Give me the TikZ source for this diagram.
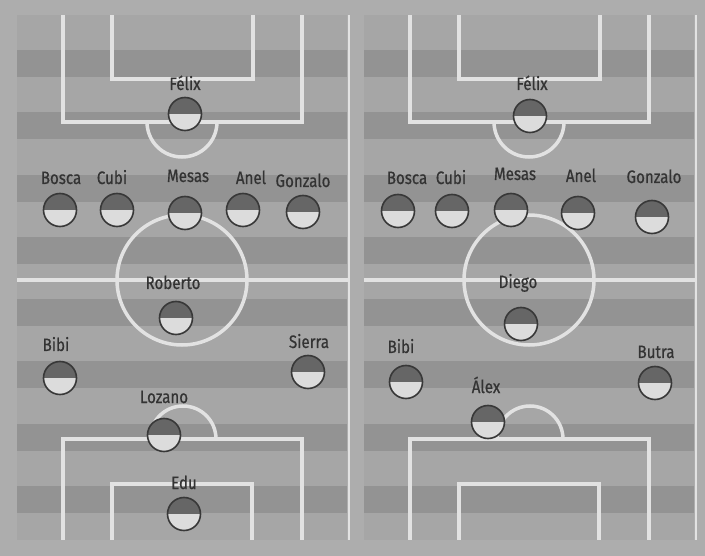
\documentclass[tikz,border=0pt]{standalone}
\usepackage{fontspec}
\newfontfamily\namefont{Fira Sans}[FakeStretch=0.84, FakeBold=0.6]
\definecolor{paper}{HTML}{ADADAD}
\definecolor{turf}{HTML}{A6A6A6}
\definecolor{band}{HTML}{939393}
\definecolor{chalk}{HTML}{E2E2E2}
\definecolor{balltop}{HTML}{666666}
\definecolor{ballwhite}{HTML}{DCDCDC}
\definecolor{balledge}{HTML}{383838}
\definecolor{ink}{HTML}{333333}
\tikzset{
  player/.style={circle, minimum size=33pt, inner sep=0pt, draw=balledge,
    line width=1.6pt, fill=ballwhite,
    path picture={\fill[balltop] (path picture bounding box.west)
      rectangle (path picture bounding box.north east);}},
  plname/.style={anchor=base, inner sep=0pt, text=ink,
    font=\namefont\fontsize{18}{18}\selectfont},
  lines/.style={draw=chalk, line width=3.5pt},
  edge/.style={draw=chalk, line width=1.6pt}
}
\begin{document}
\begin{tikzpicture}[x=1pt, y=-1pt]
  \fill[paper] (0,0) rectangle (705,556);
  \useasboundingbox (0,0) rectangle (705,556);
  % the two pitches
  \foreach \ox in {0,347} {
    \begin{scope}[xshift=\ox pt]
      \fill[turf] (17,15) rectangle (347,540);
      \foreach \k in {0,...,7} \fill[band] (17,50+62.3*\k) rectangle (347,77+62.3*\k);
      \draw[edge] (349,15) -- (349,540);
      \draw[lines] (17,280) -- (349,280);
      \draw[lines] (182,280) circle (65);
      % top area
      \draw[lines] (63,15) -- (63,122) -- (302,122) -- (302,15);
      \draw[lines] (112,15) -- (112,79) -- (253,79) -- (253,15);
      \draw[lines] (147,122) arc (180:0:35);
      % bottom area
      \draw[lines] (63,540) -- (63,439) -- (302,439) -- (302,540);
      \draw[lines] (112,540) -- (112,484) -- (252,484) -- (252,540);
      \draw[lines] (150,439) arc (180:360:33);
    \end{scope}
  }
  % left team
  \foreach \i/\x/\y/\lx/\ly/\n in {
      lfelix/185/114/185/90/Félix, lbosca/60/210/61/184/Bosca,
      lcubi/117/210/112/184/Cubi, lmesas/185/213/188/182/Mesas,
      lanel/243/210/251/184/Anel, lgonzalo/303/212/303/187/Gonzalo,
      lroberto/176/318/173/289/Roberto, lbibi/60/378/56/351/Bibi,
      lsierra/308/372/309/348/Sierra, llozano/164/435/164/403/Lozano,
      ledu/184/514/184/489/Edu} {
    \node[player] (\i) at (\x,\y) {};
    \node[plname] (\i-n) at (\lx,\ly) {\n};
  }
  % right team
  \foreach \i/\x/\y/\lx/\ly/\n in {
      rfelix/530/116/532/90/Félix, rbosca/398/211/407/184/Bosca,
      rcubi/452/211/451/184/Cubi, rmesas/511/210/515/180/Mesas,
      ranel/578/213/581/182/Anel, rgonzalo/652/217/654/183/Gonzalo,
      rdiego/521/324/518/288/Diego, rbibi/406/382/401/353/Bibi,
      rbutra/655/383/656/358/Butra, ralex/488/422/486/393/Álex} {
    \node[player] (\i) at (\x,\y) {};
    \node[plname] (\i-n) at (\lx,\ly) {\n};
  }
\end{tikzpicture}
\end{document}
